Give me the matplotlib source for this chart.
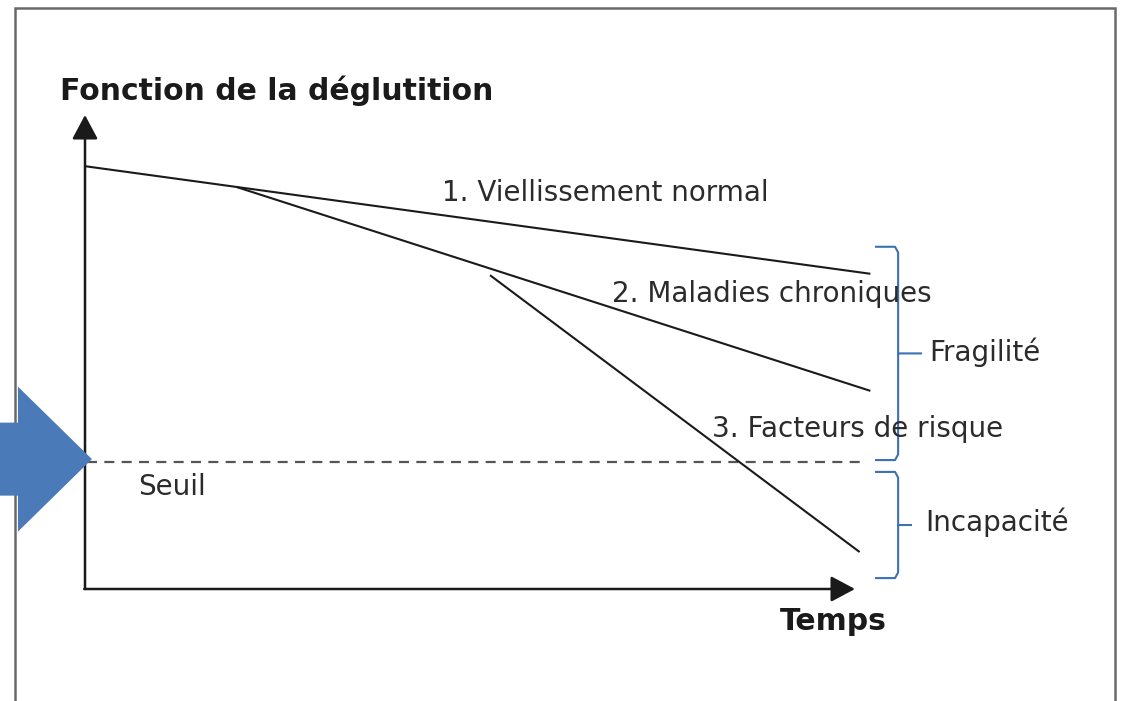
import matplotlib
matplotlib.use("Agg")
import matplotlib.pyplot as plt
from matplotlib.patches import Rectangle, FancyArrow, PathPatch
from matplotlib.path import Path

plt.rcParams['font.family'] = ['DejaVu Sans']

# ---- data (conceptual units: time 0..100, function 0..100) ----
title_y = "Fonction de la déglutition"
title_x = "Temps"
series_labels = ["1. Viellissement normal", "2. Maladies chroniques", "3. Facteurs de risque"]
s1_t = [0, 102]
s1_v = [89.2, 66.5]
s2_t = [19.7, 102]
s2_v = [84.8, 41.8]
s3_t = [52.6, 100.6]
s3_v = [66.2, 7.8]
seuil_value = 26.8
seuil_label = "Seuil"
zones = ["Fragilité", "Incapacité"]
zone_top = [72.2, 24.7]
zone_bottom = [27.2, 2.3]

# ---- figure ----
W, H, DPI = 1143, 701, 100
fig = plt.figure(figsize=(W / DPI, H / DPI), dpi=DPI)
ax = fig.add_axes([0, 0, 1, 1])
px_x, px_y = 7.7, 4.74          # pixels per data unit
ox, oy = 85, 589                # origin in pixels
ax.set_xlim(-ox / px_x, (W - ox) / px_x)
ax.set_ylim((oy - H) / px_y, oy / px_y)
ax.axis('off')

# outer frame
frame = Rectangle((-70 / px_x, -131 / px_y), 1100 / px_x, 712 / px_y,
                  fill=False, ec='#6a6a6a', lw=1.8, zorder=1)
ax.add_patch(frame)

ink = '#1a1a1a'
# axes with arrows
astyle = '-|>,head_length=0.45,head_width=0.24'
ax.annotate('', xy=(0, 100), xytext=(0, 0),
            arrowprops=dict(arrowstyle=astyle, mutation_scale=33, lw=1.8,
                            color=ink, shrinkA=0, shrinkB=0), zorder=3)
ax.annotate('', xy=(100, 0), xytext=(-0.1, 0),
            arrowprops=dict(arrowstyle=astyle, mutation_scale=33, lw=1.8,
                            color=ink, shrinkA=0, shrinkB=0), zorder=3)

# series
for t, v in [(s1_t, s1_v), (s2_t, s2_v), (s3_t, s3_v)]:
    ax.plot(t, v, color=ink, lw=1.5, solid_capstyle='butt', zorder=3)

# threshold
ax.plot([0.3, 101.3], [seuil_value, seuil_value], color='#555555', lw=1.6,
        dashes=(4.5, 3.3), zorder=2)

txt = '#2b2b2b'
fs = 20
ax.text(-3.25, 103.2, title_y, fontsize=21.5, fontweight='bold', color=ink, va='baseline', ha='left')
ax.text(90.3, -8.6, title_x, fontsize=21.5, fontweight='bold', color=ink, va='baseline', ha='left')
label_pos = [(46.4, 81.9), (68.4, 60.5), (81.4, 32.1)]
for lab, (x, y) in zip(series_labels, label_pos):
    ax.text(x, y, lab, fontsize=fs, color=txt, va='baseline', ha='left', zorder=4)
ax.text(6.9, 19.8, seuil_label, fontsize=fs, color=txt, va='baseline', ha='left')

# braces
bcol = '#3a72b3'
bx = 105.6
hook = 3.0
tick = [3.1, 1.8]
zone_text_pos = [(109.7, 48.0), (109.1, 12.2)]
for name, top, bot, tk, (tx, ty) in zip(zones, zone_top, zone_bottom, tick, zone_text_pos):
    mid = (top + bot) / 2
    r = 1.2
    verts = [(bx - hook, top), (bx - 0.4, top), (bx, top - r),
             (bx, mid + r), (bx, mid), (bx + tk, mid),
             (bx, mid), (bx, mid - r),
             (bx, bot + r), (bx - 0.4, bot), (bx - hook, bot)]
    codes = [Path.MOVETO, Path.LINETO, Path.LINETO,
             Path.LINETO, Path.LINETO, Path.LINETO,
             Path.MOVETO, Path.LINETO,
             Path.LINETO, Path.LINETO, Path.LINETO]
    ax.add_patch(PathPatch(Path(verts, codes), fill=False, ec=bcol, lw=1.5,
                           joinstyle='round', zorder=3))
    ax.text(tx, ty, name, fontsize=fs, color=txt, va='baseline', ha='left')

# blue pointer arrow towards threshold
arr = FancyArrow(-ox / px_x, seuil_value + 0.6, ox / px_x + 0.9, 0,
                 width=73 / px_y, head_width=145 / px_y, head_length=74 / px_x,
                 length_includes_head=True, color='#4a7ab8', lw=0, zorder=5)
ax.add_patch(arr)

fig.savefig('out.png', dpi=DPI, facecolor='white')
